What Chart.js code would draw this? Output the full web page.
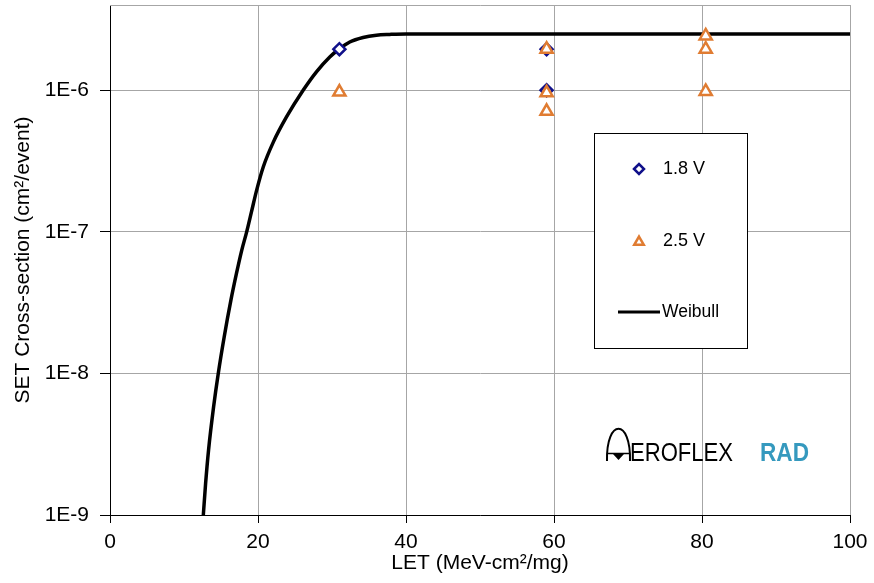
<!DOCTYPE html>
<html>
<head>
<meta charset="utf-8">
<script src="https://cdn.jsdelivr.net/npm/chart.js@4/dist/chart.umd.min.js"></script>
<style>
  html, body { margin: 0; padding: 0; background: #fff; }
  #wrap { position: relative; width: 874px; height: 583px; }
</style>
</head>
<body>
<div id="wrap"><canvas id="set-chart" width="874" height="583"></canvas></div>
<script>
// Data
const volt18X = [31, 59, 59];
const volt18Y = [1.95e-6, 1.95e-6, 1.0e-6];
const volt25X = [31, 59, 59, 59, 80.5, 80.5, 80.5];
const volt25Y = [9.7e-7, 1.95e-6, 9.6e-7, 7.1e-7, 2.42e-6, 1.95e-6, 9.8e-7];
const weibullX = [12.61, 12.92, 13.32, 14.0, 14.63, 15.43, 16.34, 17.09, 17.8, 18.47, 19.14, 19.82, 20.72, 22.07, 23.87, 26.1, 27.9, 29.7, 30.9, 32.4, 34.2, 36.0, 37.8, 40, 100];
const weibullY = [1e-9, 1.67e-9, 2.88e-9, 5.81e-9, 1e-8, 1.81e-8, 3.29e-8, 5.08e-8, 7.4e-8, 1e-7, 1.4e-7, 1.97e-7, 2.88e-7, 4.3e-7, 6.5e-7, 1e-6, 1.35e-6, 1.72e-6, 1.94e-6, 2.19e-6, 2.36e-6, 2.45e-6, 2.48e-6, 2.5e-6, 2.5e-6];
const yTicks = [1e-9, 1e-8, 1e-7, 1e-6];
const yTickLabels = ['1E-9', '1E-8', '1E-7', '1E-6'];
const legendLabels = ['1.8 V', '2.5 V', 'Weibull'];

const NAVY = '#10108a';
const ORANGE = '#e07c32';
const GRID = '#a6a6a6';
const FONT = "'Liberation Sans', Arial, sans-serif";

Chart.defaults.font.family = FONT;
Chart.defaults.color = '#000';

function toPoints(xs, ys) {
  return xs.map((x, i) => ({ x: x, y: ys[i] }));
}

// Legend box, plot frame and logo drawn on top of the chart
var extrasPlugin = {
  id: 'extras',
  beforeDatasetsDraw(chart) {
    const ctx = chart.ctx;
    const a = chart.chartArea;
    ctx.save();
    ctx.strokeStyle = GRID;
    ctx.lineWidth = 1;
    ctx.beginPath();
    ctx.moveTo(a.left, a.top + 0.5);
    ctx.lineTo(a.right + 0.5, a.top + 0.5);
    ctx.lineTo(a.right + 0.5, a.bottom);
    ctx.stroke();
    ctx.restore();
  },
  afterDraw(chart) {
    const ctx = chart.ctx;
    ctx.save();
    // legend
    ctx.fillStyle = '#fff';
    ctx.fillRect(594, 133, 153, 215);
    ctx.strokeStyle = '#000';
    ctx.lineWidth = 1;
    ctx.strokeRect(594.5, 133.5, 153, 215);

    ctx.strokeStyle = NAVY; ctx.lineWidth = 2.5;
    Chart.helpers.drawPoint(ctx, { pointStyle: 'rectRot', radius: 5, borderWidth: 2.5 }, 639, 169);
    ctx.strokeStyle = ORANGE; ctx.lineWidth = 2.5;
    Chart.helpers.drawPoint(ctx, { pointStyle: 'triangle', radius: 5.5, borderWidth: 2.5 }, 639, 242);
    ctx.strokeStyle = '#000'; ctx.lineWidth = 3;
    ctx.beginPath(); ctx.moveTo(618, 312); ctx.lineTo(660, 312); ctx.stroke();

    ctx.fillStyle = '#000';
    ctx.font = '18px ' + FONT;
    ctx.textBaseline = 'middle';
    ctx.fillText(legendLabels[0], 663, 169);
    ctx.fillText(legendLabels[1], 663, 241);
    ctx.font = '17.5px ' + FONT;
    ctx.fillText(legendLabels[2], 662, 312);

    // logo
    ctx.strokeStyle = '#000';
    ctx.lineWidth = 2;
    ctx.beginPath();
    ctx.moveTo(607, 461);
    ctx.bezierCurveTo(606, 418, 631, 418, 630, 461);
    ctx.stroke();
    ctx.lineWidth = 1.5;
    ctx.beginPath(); ctx.moveTo(608, 453.5); ctx.lineTo(629, 453.5); ctx.stroke();
    ctx.fillStyle = '#000';
    ctx.beginPath();
    ctx.moveTo(613, 454); ctx.lineTo(624, 454); ctx.lineTo(618.5, 460); ctx.closePath();
    ctx.fill();
    ctx.textBaseline = 'alphabetic';
    ctx.font = '25px ' + FONT;
    ctx.fillText('EROFLEX', 630, 461, 103);
    ctx.fillStyle = '#3599be';
    ctx.font = 'bold 25px ' + FONT;
    ctx.fillText('RAD', 760, 461, 49);
    ctx.restore();
  }
};

var ctx = document.getElementById('set-chart').getContext('2d');
var setChart = new Chart(ctx, {
  type: 'scatter',
  data: {
    datasets: [{
      label: legendLabels[1],
      data: toPoints(volt25X, volt25Y),
      pointStyle: 'triangle',
      pointRadius: 7,
      pointBorderWidth: 2.5,
      borderColor: ORANGE,
      backgroundColor: '#fff',
      order: 0,
    }, {
      label: legendLabels[0],
      data: toPoints(volt18X, volt18Y),
      pointStyle: 'rectRot',
      pointRadius: 6,
      pointBorderWidth: 2.5,
      borderColor: NAVY,
      backgroundColor: '#fff',
      order: 1,
    }, {
      label: legendLabels[2],
      data: toPoints(weibullX, weibullY),
      showLine: true,
      pointRadius: 0,
      borderColor: '#000',
      borderWidth: 3.5,
      cubicInterpolationMode: 'monotone',
      order: 2,
    }]
  },
  options: {
    responsive: false,
    animation: false,
    layout: { autoPadding: false, padding: { left: 0, right: 24, top: 5, bottom: 0 } },
    scales: {
      x: {
        type: 'linear',
        min: 0,
        max: 100,
        ticks: { stepSize: 20, padding: 7, font: { size: 21 } },
        grid: { color: GRID, tickColor: '#000', tickLength: 8 },
        border: { color: '#000', width: 1 },
        title: { display: true, text: 'LET (MeV-cm²/mg)', font: { size: 21 }, padding: { top: 0, bottom: 7 } },
        afterFit(scale) { scale.height = 68; scale.paddingLeft = 0; scale.paddingRight = 0; },
      },
      y: {
        type: 'logarithmic',
        min: 1e-9,
        max: 4e-6,
        afterBuildTicks(scale) { scale.ticks = yTicks.map(v => ({ value: v })); },
        ticks: {
          padding: 11,
          font: { size: 21 },
          callback: (v) => yTickLabels[yTicks.indexOf(v)] || '',
        },
        grid: { color: GRID, tickColor: '#000', tickLength: 10 },
        border: { color: '#000', width: 1 },
        title: { display: true, text: 'SET Cross-section (cm²/event)', font: { size: 21 }, padding: { top: 11, bottom: 0 } },
        afterFit(scale) { scale.width = 110; scale.paddingTop = 0; scale.paddingBottom = 0; },
      }
    },
    plugins: {
      legend: { display: false },
      tooltip: { enabled: false },
    }
  },
  plugins: [extrasPlugin],
});
</script>
</body>
</html>
